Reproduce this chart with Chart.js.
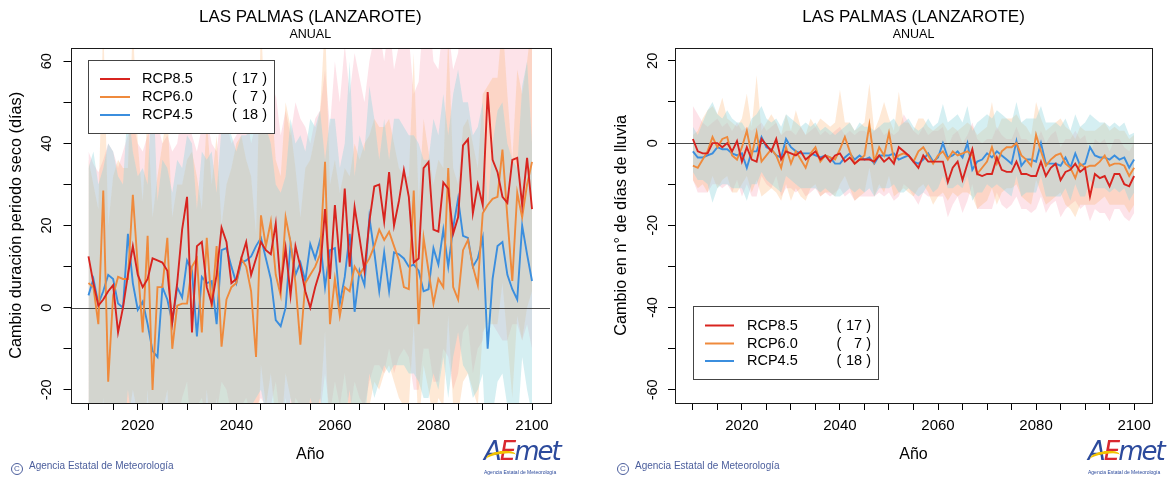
<!DOCTYPE html>
<html>
<head>
<meta charset="utf-8">
<script src="https://cdn.jsdelivr.net/npm/chart.js@4.4.1/dist/chart.umd.min.js"></script>
<style>
html,body{margin:0;padding:0;background:#fff;}
#wrap{position:relative;width:1172px;height:478px;overflow:hidden;background:#fff;}
.panel{position:absolute;top:0;width:586px;height:478px;}
canvas{display:block;}
.copy{position:absolute;top:460px;font:10px "Liberation Sans",Arial,sans-serif;color:#4a5d9c;white-space:nowrap;}
.copy .c{display:inline-block;width:10px;height:10px;border:1px solid #4a5d9c;border-radius:50%;font-size:8px;line-height:10px;text-align:center;margin-right:6px;vertical-align:-2px;}
.logo{position:absolute;width:84px;height:44px;}
.logo .lg{position:absolute;left:0;top:2px;font:italic 26px "DejaVu Sans",sans-serif;letter-spacing:-2px;line-height:30px;white-space:nowrap;}
.logo .b{color:#2c4a9c;}
.logo .r{color:#d9282f;}
.logo .sw{position:absolute;left:2px;top:17px;width:30px;height:9px;border-top:3px solid #f3c300;border-radius:50% 50% 0 0;transform:rotate(-8deg);}
.logo .lt{position:absolute;left:0;top:35px;font:5px "Liberation Sans",Arial,sans-serif;color:#2c4a9c;white-space:nowrap;}
</style>
</head>
<body>
<div id="wrap">
  <div class="panel" style="left:0"><canvas id="c1" width="586" height="478"></canvas></div>
  <div class="panel" style="left:586px"><canvas id="c2" width="586" height="478"></canvas></div>
  <div class="copy" style="left:11px"><span class="c">C</span>Agencia Estatal de Meteorología</div>
  <div class="copy" style="left:617px"><span class="c">C</span>Agencia Estatal de Meteorología</div>
  <div class="logo" style="left:484px;top:434px"><div class="lg"><span class="b">A</span><span class="r">E</span><span class="b">met</span></div><div class="sw"></div><div class="lt">Agencia Estatal de Meteorología</div></div>
  <div class="logo" style="left:1088px;top:434px"><div class="lg"><span class="b">A</span><span class="r">E</span><span class="b">met</span></div><div class="sw"></div><div class="lt">Agencia Estatal de Meteorología</div></div>
</div>
<script>
// ---------- categories ----------
const years = [
  2010,2011,2012,2013,2014,2015,2016,2017,2018,2019,
  2020,2021,2022,2023,2024,2025,2026,2027,2028,2029,
  2030,2031,2032,2033,2034,2035,2036,2037,2038,2039,
  2040,2041,2042,2043,2044,2045,2046,2047,2048,2049,
  2050,2051,2052,2053,2054,2055,2056,2057,2058,2059,
  2060,2061,2062,2063,2064,2065,2066,2067,2068,2069,
  2070,2071,2072,2073,2074,2075,2076,2077,2078,2079,
  2080,2081,2082,2083,2084,2085,2086,2087,2088,2089,
  2090,2091,2092,2093,2094,2095,2096,2097,2098,2099,
  2100];

const scenarioNames = ['RCP8.5', 'RCP6.0', 'RCP4.5'];
const modelCounts = [17, 7, 18];

const xTickLabels = [2020, 2040, 2060, 2080, 2100];
const leftYTickLabels = [-20, 0, 20, 40, 60];
const rightYTickLabels = [-60, -40, -20, 0, 20];

// ---------- LEFT: Cambio duración periodo seco (días) ----------
const dryRcp85 = [
  12.5, 6, 0.5, 2, 4, 5.5, -6, 0, 8, 15,
  8, 5, 7, 12, 11.5, 11, 9, -3.5, 6, 19,
  27, -6, 15, 16, 5, 1, 8, 19.5, 16, 6,
  7, 12, 16, 8, 12, 16, 14, 13, 20.5, 5,
  14.5, 3, 15, 10, 4, 0, 5, 9, 24, 7,
  25, 11, 29, 10, 24.5, 17, 9, 21, 29.5, 30,
  21, 33, 20, 26, 33.5, 27, 11, 12, 34, 35.5,
  19, 18.5, 30.5, 29, 18, 22, 39.5, 41, 23, 30,
  25, 52.5, 36, 33, 27, 25.5, 36, 36.5, 25, 36.5,
  24];
const dryRcp60 = [
  6, 5, -4, 28.5, -18, 3, 7.5, 7, 7, 27.5,
  10, -6, 17.5, -20, 5, 5, 17, -10, 0.5, 1,
  1, 10, 12, -6, 17, 0, 15, -9.5, 2, 5,
  6, 12, 10, 4, -12, 22.5, 15, 21, 8, 3,
  22, 16, 6, -9, 6, 8, 10, 13, 35.5, -4,
  7, -2, 5, 4, 10, 8, 10, 12, 15, 19,
  16.5, 18.5, 15, 11.5, 5, 4.5, 28.5, -4, 17, 9,
  1, 7, 5, 34, 5, 2, 14, 16.5, 10, 5.5,
  23, 25, 26.5, 27, 38.5, 22, 6.5, 28, 22, 30,
  35.5];
const dryRcp45 = [
  3, 7, 1, 4, 8, 7, 1, 0, 18, 6,
  -0.5, 1.5, -4, -10.5, -12, 5, 2, -3.5, 5, 2.5,
  11.5, 9, -7, 7.5, 6, 6.5, -4, 14, 14.5, 10,
  6, 11, 11.5, 12.5, 15, 17, 12, 7, -3, -4.5,
  0, 15.5, 8, 11, 6.5, 15.5, 12, 16.5, 5, 14,
  14.5, 1, 7.5, 18, -1, 9, 5.5, 22, 13.5, 4,
  13.5, 4, 13.5, 13, 12, 10, 10.5, 9, 4, 4.5,
  14.5, 10.5, 19, 10, 19.5, 26.5, 17.5, 17, 10, 12,
  17, -10, 7, 15, 16, 8, 4.5, 2, 20, 13,
  6.5];
const dryRcp85Upper = [
  38, 35, 33, 36, 40, 38, 34, 38, 42, 45,
  40, 38, 42, 44, 45, 40, 42, 38, 40, 48,
  50, 42, 38, 44, 46, 40, 38, 48, 45, 40,
  42, 44, 48, 40, 45, 50, 48, 46, 52, 42,
  48, 42, 50, 46, 44, 40, 46, 48, 58, 44,
  60, 50, 64, 52, 62, 56, 50, 60, 66, 68,
  60, 70, 58, 64, 70, 66, 52, 55, 72, 74,
  60, 58, 70, 68, 58, 62, 78, 80, 64, 70,
  66, 90, 76, 72, 68, 66, 76, 78, 66, 76,
  64];
const dryRcp85Lower = [
  -28, -30, -34, -32, -30, -28, -36, -32, -26, -24,
  -28, -30, -30, -26, -26, -26, -28, -34, -28, -22,
  -18, -34, -24, -22, -28, -32, -26, -18, -20, -26,
  -26, -24, -22, -26, -24, -22, -24, -24, -18, -28,
  -22, -30, -22, -24, -28, -32, -28, -26, -16, -26,
  -18, -24, -16, -26, -18, -22, -24, -18, -14, -14,
  -16, -10, -16, -12, -10, -12, -20, -20, -10, -10,
  -18, -18, -10, -12, -20, -16, -6, -4, -16, -10,
  -8, 2, -4, -6, -8, -8, -4, -4, -8, -4,
  -10];
const dryRcp60Upper = [
  36, 30, 24, 70, 20, 32, 36, 34, 34, 70,
  40, 26, 48, 22, 32, 40, 48, 22, 30, 30,
  36, 38, 32, 24, 46, 30, 42, 20, 30, 34,
  40, 42, 36, 32, 18, 70, 42, 52, 36, 32,
  50, 44, 34, 22, 34, 36, 42, 48, 70, 30,
  36, 28, 34, 32, 40, 36, 40, 42, 46, 44,
  44, 46, 40, 34, 32, 32, 62, 26, 46, 38,
  30, 36, 34, 66, 34, 30, 44, 46, 40, 34,
  52, 54, 56, 56, 70, 52, 36, 58, 52, 60,
  70];
const dryRcp60Lower = [
  -30, -30, -36, -22, -46, -32, -28, -28, -28, -20,
  -26, -38, -20, -46, -30, -26, -20, -40, -32, -32,
  -28, -24, -30, -38, -20, -32, -22, -40, -30, -28,
  -24, -26, -26, -32, -42, -14, -24, -16, -28, -32,
  -16, -22, -30, -40, -28, -28, -26, -24, -6, -36,
  -28, -34, -28, -30, -26, -28, -26, -24, -18, -20,
  -16, -14, -18, -22, -24, -24, -4, -30, -14, -20,
  -28, -22, -24, -2, -24, -26, -18, -16, -20, -24,
  -6, -4, -4, -4, 6, -8, -22, -2, -8, 0,
  4];
const dryRcp45Upper = [
  34, 38, 30, 34, 40, 38, 32, 30, 50, 38,
  32, 34, 30, 58, 26, 36, 34, 28, 36, 34,
  42, 40, 24, 38, 36, 38, 28, 44, 46, 42,
  38, 42, 42, 44, 46, 48, 44, 40, 30, 28,
  32, 46, 40, 42, 38, 46, 44, 48, 36, 46,
  46, 34, 40, 60, 32, 42, 38, 54, 46, 36,
  46, 36, 46, 46, 44, 42, 42, 40, 36, 36,
  46, 42, 52, 42, 52, 58, 50, 50, 42, 44,
  50, 24, 40, 48, 50, 40, 36, 34, 54, 60,
  40];
const dryRcp45Lower = [
  -30, -28, -34, -30, -28, -28, -34, -34, -20, -30,
  -34, -32, -36, -42, -44, -30, -30, -36, -30, -30,
  -24, -26, -40, -28, -30, -28, -36, -24, -24, -26,
  -30, -24, -24, -24, -22, -20, -26, -28, -38, -40,
  -34, -22, -28, -26, -30, -22, -26, -22, -30, -24,
  -24, -32, -28, -20, -34, -26, -28, -16, -22, -18,
  -14, -16, -14, -14, -14, -16, -16, -18, -22, -22,
  -16, -20, -12, -22, -12, -6, -14, -16, -22, -20,
  -16, -42, -26, -18, -16, -24, -28, -30, -12, -20,
  -26];

// ---------- RIGHT: Cambio en nº de días de lluvia ----------
const rainRcp85 = [
  1, -2, -2.5, -2.5, 0, 0, -1, 0, -2, 0.5,
  -4.5, -1, -4, -4.5, 1, -0.5, -2, 1, -4, -2,
  -2.5, -3, -2, -4, -3, -2, -4, -3, -4.5, -3,
  -2.5, -4.5, -3.5, -5, -4, -4, -4, -4.5, -3, -4.5,
  -3.5, -5, -1, -2, -3, -4.5, -6, -3, -4.5, -4.5,
  -4.5, -4.5, -9.5, -6, -4.5, -9, -5, -1.5, -7.5, -8,
  -7.5, -7.5, -3.5, -6.5, -7, -7, -4.5, -7.5, -7.5, -8,
  -8, -4.5, -8, -6, -5, -9, -7, -6.5, -5, -7,
  -6, -13, -7.5, -8.5, -8, -10.5, -7.5, -7.5, -10, -10.5,
  -8];
const rainRcp60 = [
  -5.5, -6, -4, -2, 1.5, -1, 1, 1.5, -3, -4,
  -1, 3, -3, 2.5, -4.5, -3, -1.5, -3, -6, -1,
  -5, -2, -4, -6, -2.5, -1, -4.5, -3, -3.5, -4,
  -1.5, 1.5, -2, -5, -4, -3, 4.5, -4.5, -1, -3,
  2.5, -4, -3, -2.5, -3, -4.5, -2, -1, -3, -5,
  -3, -2, -4, -2, -3, -2.5, -2, -3, -7.5, -6,
  -4.5, -1, -5, -2, -1, -1, 0, -3, -4, -5.5,
  2, -2, -5.5, -4, -3, -2.5, -5, -6, -8.5, -5,
  -6, -5.5, -5.5, -4.5, -3, -5.5, -5, -5, -5.5, -8,
  -6];
const rainRcp45 = [
  -2, -3.5, -3.5, -3, -2.5, -1, -1.5, -1.5, -2.5, -3,
  -2.5, -6, -2, -2, 1.5, -1, -1.5, -3, -3.5, 1,
  -1, -2, -2.5, -2.5, -2.5, -3, -3.5, -3, -3.5, -5,
  -5, -3.5, -2.5, -4, -3, -4, -3.5, -5, -3, -3,
  -3, -2.5, -4, -3.5, -3, -4.5, -5, -4, -2.5, -4.5,
  -3.5, 0, -3.5, -3, -2, -3.5, 0, -6.5, -4.5, -4,
  -2.5, -3.5, -2, -3, -4, -5, 0.5, -5.5, -4, -4,
  -4.5, 0, -5, -5, -5, -5.5, -3.5, -6, -2.5, -5.5,
  -5, -1, -3, -3.5, -3.5, -4, -3, -4, -3.5, -6,
  -4];
const rainRcp85Upper = [
  9, 7, 5, 4, 5, 6, 4, 5, 3, 5,
  3, 4, 3, 4, 5, 3, 4, 5, 2, 3,
  3, 2, 4, 2, 3, 4, 2, 3, 2, 3,
  4, 2, 3, 2, 3, 3, 2, 3, 4, 2,
  3, 2, 3, 7, 5, 3, 2, 4, 2, 3,
  3, 4, -1, 2, 3, 0, 2, 5, 1, 0,
  1, 1, 4, 2, 1, 1, 4, 1, 1, 0,
  0, 3, 0, 2, 3, -1, 1, 1, 3, 1,
  2, -3, 1, 0, 1, -2, 1, 1, -1, -2,
  0];
const rainRcp85Lower = [
  -9, -12, -12, -12, -10, -10, -11, -10, -12, -9,
  -13, -10, -13, -13, -8, -10, -11, -8, -13, -11,
  -11, -12, -11, -13, -12, -11, -13, -12, -13, -12,
  -11, -13, -12, -14, -13, -13, -13, -13, -12, -13,
  -12, -14, -13, -10, -11, -13, -15, -12, -13, -13,
  -13, -13, -18, -15, -13, -17, -14, -10, -16, -16,
  -16, -16, -12, -15, -16, -15, -13, -16, -16, -17,
  -16, -13, -17, -15, -14, -18, -16, -15, -14, -16,
  -15, -19, -16, -17, -17, -19, -16, -16, -18, -19,
  -17];
const rainRcp60Upper = [
  2, 3, 6, 8, 9, 7, 11, 6, 5, 4,
  6, 12, 4, 16.5, 3, 5, 7, 5, 2, 7,
  3, 8, 4, 2, 6, 4, 6, 5, 4, 5,
  13, 5, 5, 3, 4, 5, 14.5, 3, 6, 10,
  6, 3, 12.5, 5, 5, 3, 6, 6, 4, 3,
  4, 5, 3, 4, 3, 4, 5, 4, 2, 3,
  4, 10, 3, 6, 6, 6, 7, 5, 4, 2,
  10, 6, 3, 4, 5, 6, 4, 3, 1, 4,
  3, 3, 3, 4, 5, 3, 4, 3, 3, 1,
  2];
const rainRcp60Lower = [
  -9, -11, -10, -12, -8, -11, -9, -8, -12, -12,
  -10, -8, -12, -9, -13, -12, -11, -12, -14, -10,
  -14, -11, -13, -14, -11, -10, -13, -12, -12, -13,
  -10, -8, -11, -14, -13, -12, -6, -13, -10, -12,
  -8, -13, -12, -11, -12, -13, -11, -10, -12, -15,
  -13, -12, -14, -12, -13, -12, -12, -13, -16, -15,
  -14, -11, -15, -12, -11, -11, -10, -13, -14, -15,
  -9, -12, -15, -14, -13, -12, -15, -16, -18, -15,
  -15, -15, -15, -14, -13, -15, -15, -15, -15, -17,
  -15];
const rainRcp45Upper = [
  4, 2, 5, 8, 10, 7, 6, 8, 6, 5,
  5, 3, 6, 7, 9, 6, 5, 6, 4, 7,
  6, 5, 4, 5, 4, 5, 3, 4, 3, 2,
  3, 4, 5, 3, 5, 4, 4, 3, 4, 5,
  5, 6, 4, 5, 6, 4, 3, 4, 6, 4,
  5, 9.5, 5, 6, 7, 5, 9, 3, 5, 6,
  7, 6, 8, 7, 6, 5, 10, 5, 6, 6,
  6, 9, 5, 5, 5, 4, 6, 3, 7, 4,
  5, 7, 6, 5, 5, 4, 5, 4, 5, 2,
  2.5];
const rainRcp45Lower = [
  -7, -9, -9, -10, -14.5, -11, -10, -10, -11, -11,
  -11, -14, -10, -10, -7, -9, -10, -11, -12, -8,
  -9, -10, -11, -11, -11, -11, -12, -11, -12, -13,
  -13, -12, -11, -12, -11, -12, -11, -13, -11, -11,
  -11, -10, -12, -12, -11, -12, -13, -12, -10, -12,
  -11, -8, -11, -11, -10, -11, -8, -14, -12, -12,
  -10, -11, -10, -11, -12, -13, -8, -13, -12, -12,
  -12, -8, -13, -13, -13, -13, -11, -14, -10, -13,
  -13, -9, -11, -11, -11, -12, -11, -12, -11, -14,
  -12];

// ---------- styling ----------
const FONT = '"Liberation Sans", Arial, Helvetica, sans-serif';
Chart.defaults.font.family = FONT;
Chart.defaults.color = '#000';

const lineColors = ['#d8241f', '#ef8a3c', '#3b8ede'];
const bandColors = ['rgba(246,150,172,0.27)', 'rgba(252,182,118,0.30)', 'rgba(150,215,222,0.40)'];

function pts(arr) { return arr.map((v, i) => ({ x: years[i], y: v })); }

function buildDatasets(bands, lines) {
  const ds = [];
  bands.forEach((b, k) => {
    ds.push({ data: pts(b[0]), fill: '+1', backgroundColor: bandColors[k], borderColor: 'transparent',
              borderWidth: 0, pointRadius: 0, tension: 0, order: 3 - k, bandTop: k === 2 });
    ds.push({ data: pts(b[1]), fill: false, backgroundColor: 'transparent', borderColor: 'transparent',
              borderWidth: 0, pointRadius: 0, tension: 0, order: 3 - k });
  });
  lines.forEach((l, k) => {
    ds.push({ label: scenarioNames[k], data: pts(l), fill: false, borderColor: lineColors[k],
              borderWidth: 1.9, pointRadius: 0, tension: 0, order: 0 });
  });
  return ds;
}

const framePlugin = {
  id: 'rframe',
  afterDatasetDraw(chart, args) {
    const ds = chart.data.datasets[args.index];
    if (!ds.bandTop) return;
    const ctx = chart.ctx, a = chart.chartArea;
    const y0 = Math.round(chart.scales.y.getPixelForValue(0)) + 0.5;
    ctx.save();
    ctx.strokeStyle = '#4a4a4a';
    ctx.lineWidth = 1.2;
    ctx.beginPath();
    ctx.moveTo(a.left, y0);
    ctx.lineTo(a.right, y0);
    ctx.stroke();
    ctx.restore();
  },
  afterDraw(chart) {
    const ctx = chart.ctx, a = chart.chartArea;
    ctx.save();
    ctx.strokeStyle = '#1a1a1a';
    ctx.lineWidth = 1;
    ctx.strokeRect(Math.round(a.left) + 0.5, Math.round(a.top) + 0.5,
                   Math.round(a.right - a.left), Math.round(a.bottom - a.top));
    ctx.restore();
  }
};

const legendPlugin = {
  id: 'rlegend',
  afterDraw(chart, args, o) {
    const ctx = chart.ctx;
    ctx.save();
    ctx.fillStyle = '#fff';
    ctx.fillRect(o.box[0], o.box[1], o.box[2] - o.box[0], o.box[3] - o.box[1]);
    ctx.strokeStyle = '#444';
    ctx.lineWidth = 1;
    ctx.strokeRect(Math.round(o.box[0]) + 0.5, Math.round(o.box[1]) + 0.5,
                   Math.round(o.box[2] - o.box[0]), Math.round(o.box[3] - o.box[1]));
    ctx.font = '14.5px ' + FONT;
    ctx.textBaseline = 'middle';
    scenarioNames.forEach((name, k) => {
      const y = o.rows[k];
      ctx.strokeStyle = lineColors[k];
      ctx.lineWidth = 2;
      ctx.beginPath();
      ctx.moveTo(o.lineX[0], y);
      ctx.lineTo(o.lineX[1], y);
      ctx.stroke();
      ctx.fillStyle = '#000';
      ctx.textAlign = 'left';
      ctx.fillText(name, o.textX, y);
      ctx.fillText('(', o.countX[0], y);
      ctx.textAlign = 'right';
      ctx.fillText(modelCounts[k] + ' )', o.countX[1], y);
    });
    ctx.restore();
  }
};

function makeChart(id, c) {
  return new Chart(document.getElementById(id), {
    type: 'line',
    data: { datasets: buildDatasets(c.bands, c.lines) },
    options: {
      responsive: false,
      animation: false,
      events: [],
      layout: { padding: { left: 0, right: c.padR, top: 0, bottom: 0 } },
      plugins: {
        legend: { display: false },
        tooltip: { enabled: false },
        title: { display: true, text: 'LAS PALMAS (LANZAROTE)', fullSize: false, color: '#000',
                 font: { size: 17, weight: 'normal' }, padding: { top: 6.8, bottom: 0 } },
        subtitle: { display: true, text: 'ANUAL', fullSize: false, color: '#000',
                    font: { size: 12.5, weight: 'normal' }, padding: { top: 0.3, bottom: 5.2 } },
        rlegend: c.legend
      },
      scales: {
        x: {
          type: 'linear', min: 2006.35, max: 2103.65,
          afterFit: s => { s.height = 75; },
          ticks: { stepSize: 5, includeBounds: false, autoSkip: false, minRotation: 0, maxRotation: 0,
                   padding: 7, color: '#000', font: { size: 15 },
                   callback: v => xTickLabels.includes(v) ? String(v) : '' },
          grid: { drawOnChartArea: false, drawTicks: true, tickLength: 7, color: '#000', lineWidth: 1 },
          border: { display: false },
          title: { display: true, text: 'Año', color: '#000', font: { size: 16 }, padding: { top: 0, bottom: 13.4 } }
        },
        y: {
          type: 'linear', min: c.yMin, max: c.yMax,
          afterFit: s => { s.width = c.yWidth; },
          ticks: { stepSize: 10, includeBounds: false, autoSkip: false, minRotation: 90, maxRotation: 90,
                   crossAlign: 'center', padding: c.yTickPad, color: '#000', font: { size: 14.5 },
                   callback: v => c.yLabels.includes(v) ? String(v) : '' },
          grid: { drawOnChartArea: false, drawTicks: true, tickLength: 7, color: '#000', lineWidth: 1 },
          border: { display: false },
          title: { display: true, text: c.yTitle, color: '#000', font: { size: 16.3 },
                   padding: { top: c.yTitlePad, bottom: 0 } }
        }
      }
    },
    plugins: [framePlugin, legendPlugin]
  });
}

makeChart('c1', {
  bands: [[dryRcp85Upper, dryRcp85Lower], [dryRcp60Upper, dryRcp60Lower], [dryRcp45Upper, dryRcp45Lower]],
  lines: [dryRcp85, dryRcp60, dryRcp45],
  yMin: -23.2, yMax: 63.3, yLabels: leftYTickLabels,
  yTitle: 'Cambio duración periodo seco (días)',
  yWidth: 70.5, yTickPad: 6.2, yTitlePad: 7.2, padR: 36,
  legend: { box: [88, 60, 274, 133], rows: [79, 97, 115], lineX: [100, 130], textX: 142, countX: [232, 267] }
});

makeChart('c2', {
  bands: [[rainRcp85Upper, rainRcp85Lower], [rainRcp60Upper, rainRcp60Lower], [rainRcp45Upper, rainRcp45Lower]],
  lines: [rainRcp85, rainRcp60, rainRcp45],
  yMin: -63.2, yMax: 23.2, yLabels: rightYTickLabels,
  yTitle: 'Cambio en n° de días de lluvia',
  yWidth: 89, yTickPad: 4.2, yTitlePad: 25.8, padR: 20,
  legend: { box: [107, 306, 292, 379], rows: [325.5, 343.5, 361], lineX: [119, 148], textX: 161, countX: [250.5, 285] }
});
</script>
</body>
</html>
